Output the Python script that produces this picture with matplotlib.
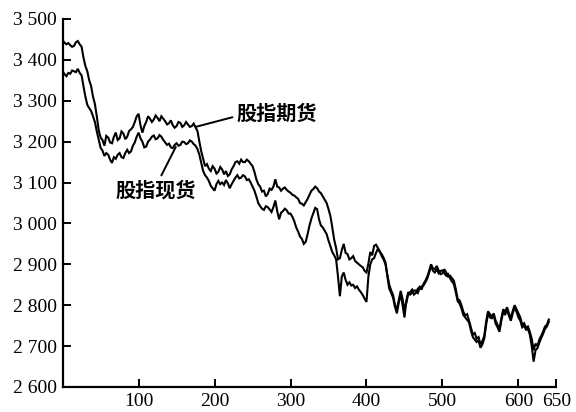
import numpy as np
import matplotlib
matplotlib.use("Agg")
import matplotlib.pyplot as plt

# x positions (trading days), every 2.5
days = np.arange(0, 640.1, 2.5)

futures = [
    3448, 3442, 3438, 3441, 3436, 3432, 3434, 3443, 3446, 3438,
    3432, 3405, 3385, 3372, 3350, 3336, 3310, 3292, 3262, 3228,
    3210, 3204, 3190, 3214, 3210, 3198, 3196, 3212, 3222, 3204,
    3208, 3225, 3220, 3206, 3212, 3226, 3230, 3236, 3248, 3262,
    3268, 3240, 3222, 3238, 3248, 3262, 3256, 3248, 3254, 3264,
    3258, 3250, 3262, 3256, 3250, 3242, 3245, 3252, 3240, 3234,
    3238, 3248, 3246, 3236, 3240, 3248, 3242, 3236, 3238, 3244,
    3235, 3226, 3200, 3176, 3158, 3140, 3145, 3134, 3128, 3140,
    3134, 3122, 3126, 3138, 3132, 3120, 3128, 3116, 3120, 3132,
    3140, 3150, 3152, 3146, 3156, 3150, 3150, 3156, 3152, 3146,
    3140, 3126, 3108, 3096, 3090, 3078, 3080, 3066, 3072, 3085,
    3082, 3090, 3108, 3090, 3088, 3080, 3085, 3088, 3082, 3078,
    3075, 3070, 3068, 3064, 3060, 3050, 3048, 3044, 3052, 3060,
    3070, 3080, 3084, 3090, 3086, 3078, 3074, 3066, 3058, 3050,
    3035, 3018, 2990, 2960, 2940, 2912, 2915, 2935, 2950, 2928,
    2925, 2912, 2915, 2920, 2908, 2904, 2900, 2896, 2893, 2884,
    2880, 2902, 2930, 2922, 2945, 2948, 2940, 2932, 2920, 2912,
    2900, 2874, 2850, 2836, 2825, 2800, 2790, 2812, 2835, 2815,
    2790, 2806, 2828, 2832, 2838, 2826, 2830, 2840, 2845, 2838,
    2852, 2860, 2870, 2884, 2900, 2890, 2888, 2896, 2885, 2876,
    2878, 2888, 2880, 2870, 2872, 2866, 2860, 2840, 2815, 2812,
    2800, 2784, 2775, 2778, 2762, 2745, 2728, 2732, 2718, 2722,
    2705, 2712, 2725, 2760, 2785, 2778, 2772, 2780, 2762, 2752,
    2740, 2768, 2790, 2784, 2795, 2780, 2768, 2786, 2800, 2790,
    2780, 2770, 2752, 2756, 2745, 2748, 2735, 2718, 2690, 2706,
    2700, 2716, 2725, 2736, 2748, 2752, 2765]

spot = [
    3372, 3365, 3360, 3368, 3366, 3374, 3372, 3370, 3378, 3368,
    3362, 3335, 3310, 3290, 3282, 3275, 3262, 3248, 3225, 3205,
    3185, 3178, 3165, 3172, 3168, 3156, 3148, 3162, 3158, 3168,
    3172, 3162, 3160, 3172, 3180, 3172, 3176, 3190, 3198, 3212,
    3222, 3208, 3200, 3186, 3188, 3200, 3205, 3212, 3215, 3206,
    3208, 3216, 3212, 3204, 3198, 3192, 3195, 3186, 3184, 3192,
    3196, 3190, 3192, 3200, 3199, 3194, 3196, 3203, 3200, 3194,
    3190, 3182, 3168, 3148, 3128, 3118, 3112, 3104, 3092, 3086,
    3080, 3096, 3104, 3096, 3100, 3094, 3106, 3098, 3086, 3096,
    3104, 3112, 3118, 3110, 3112, 3118, 3115, 3106, 3108, 3100,
    3090, 3080, 3066, 3050, 3042, 3036, 3033, 3042, 3040, 3034,
    3028, 3040, 3056, 3030, 3010, 3026, 3030, 3036, 3032, 3024,
    3024, 3016, 3005, 2990, 2980, 2968, 2962, 2950, 2955, 2974,
    2995, 3012, 3025, 3038, 3035, 3010, 2995, 2990, 2982, 2974,
    2958, 2944, 2930, 2922, 2912, 2870, 2822, 2870, 2880, 2862,
    2850, 2856, 2848, 2850, 2842, 2846, 2838, 2832, 2825, 2816,
    2808, 2870, 2900, 2912, 2915, 2928, 2938, 2930, 2925, 2916,
    2905, 2870, 2840, 2830, 2818, 2796, 2780, 2806, 2828, 2800,
    2770, 2812, 2832, 2826, 2830, 2836, 2836, 2830, 2842, 2846,
    2848, 2856, 2865, 2880, 2896, 2884, 2880, 2888, 2878, 2884,
    2885, 2878, 2872, 2876, 2866, 2858, 2852, 2832, 2810, 2804,
    2792, 2776, 2770, 2764, 2758, 2738, 2722, 2716, 2710, 2714,
    2696, 2704, 2718, 2752, 2780, 2770, 2768, 2774, 2755, 2746,
    2735, 2762, 2784, 2776, 2790, 2774, 2762, 2780, 2795, 2784,
    2770, 2762, 2746, 2750, 2740, 2742, 2728, 2700, 2662, 2690,
    2695, 2708, 2720, 2730, 2742, 2748, 2760]

x_ticks = [100, 200, 300, 400, 500, 600, 650]
y_ticks = [2600, 2700, 2800, 2900, 3000, 3100, 3200, 3300, 3400, 3500]
y_tick_labels = ["2 600", "2 700", "2 800", "2 900", "3 000",
                 "3 100", "3 200", "3 300", "3 400", "3 500"]

label_futures = "股指期货"
label_spot = "股指现货"

fig = plt.figure(figsize=(5.76, 4.12), dpi=100)
ax = fig.add_axes([0.1087, 0.0607, 0.966 - 0.1087, 0.954 - 0.0607])

ax.plot(days, futures, color="black", lw=1.5, solid_joinstyle="miter")
ax.plot(days, spot, color="black", lw=1.5, solid_joinstyle="miter")

ax.set_xlim(0, 650)
ax.set_ylim(2600, 3500)
for s in ["top", "right"]:
    ax.spines[s].set_visible(False)
for s in ["left", "bottom"]:
    ax.spines[s].set_linewidth(1.6)

ax.set_xticks(x_ticks)
ax.set_xticklabels([str(v) for v in x_ticks])
ax.set_yticks(y_ticks)
ax.set_yticklabels(y_tick_labels)
ax.tick_params(direction="in", length=6, width=1.4, pad=4)
for lab in ax.get_xticklabels() + ax.get_yticklabels():
    lab.set_fontfamily("Liberation Serif")
    lab.set_fontsize(14)

cjk = ["Noto Sans CJK SC", "DejaVu Sans"]
ax.annotate(label_futures, xy=(175, 3236), xytext=(229, 3270),
            textcoords="data", ha="left", va="center",
            fontsize=14.5, family=cjk, fontweight="bold",
            arrowprops=dict(arrowstyle="-", lw=1.4, color="black",
                            shrinkA=1, shrinkB=0, relpos=(0, 0.35)))
ax.annotate(label_spot, xy=(149, 3187), xytext=(122, 3082),
            textcoords="data", ha="center", va="center",
            fontsize=14.5, family=cjk, fontweight="bold",
            arrowprops=dict(arrowstyle="-", lw=1.4, color="black",
                            shrinkA=1, shrinkB=0, relpos=(0.55, 1)))

fig.savefig("out.png", dpi=100)
